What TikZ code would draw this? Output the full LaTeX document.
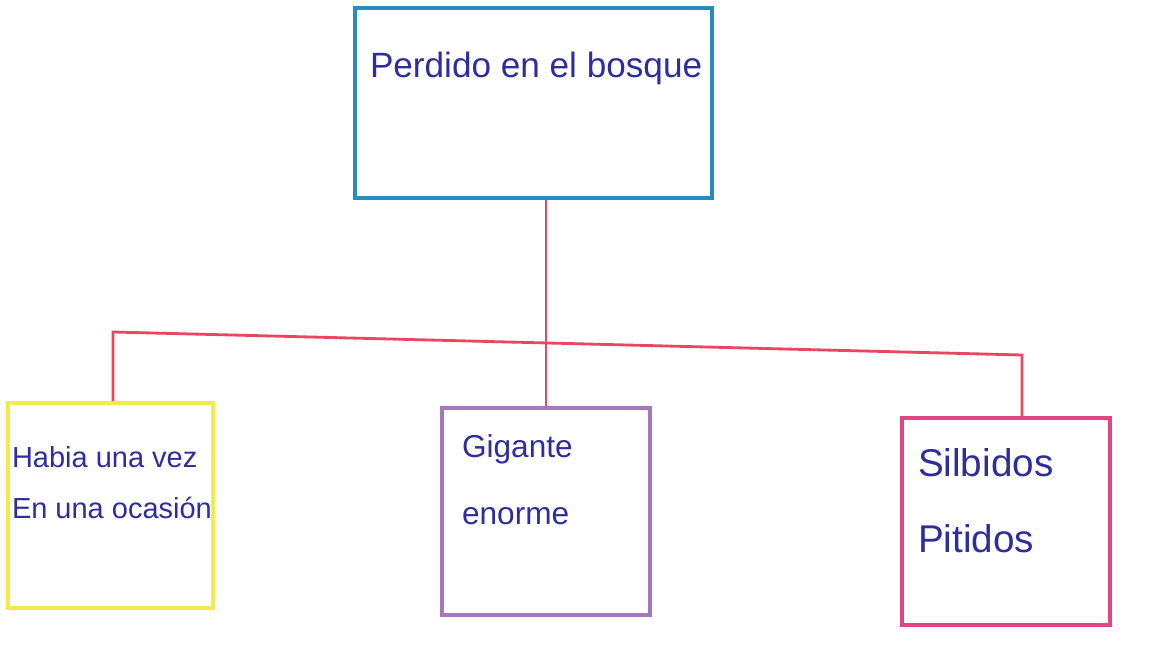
\documentclass[tikz,border=0pt]{standalone}
\usepackage{fontspec}
\setmainfont{Liberation Sans}
\usepackage{tikz}
\usetikzlibrary{shapes,arrows}
\definecolor{boxblue}{RGB}{40,140,195}
\definecolor{leafyellow}{RGB}{245,235,70}
\definecolor{leafpurple}{RGB}{165,120,190}
\definecolor{leafpink}{RGB}{225,70,130}
\definecolor{linered}{RGB}{235,70,95}
\definecolor{inkblue}{RGB}{45,45,160}
\tikzstyle{titlebox} = [rectangle, minimum width=7.14cm, minimum height=3.8cm, inner sep=0pt, draw=boxblue, line width=2pt, text=inkblue]
\tikzstyle{leafbox} = [rectangle, minimum width=4.16cm, minimum height=4.14cm, inner sep=0pt, line width=2pt, text=inkblue]
\tikzstyle{link} = [draw=linered, line width=1.6pt]

\begin{document}
\begin{tikzpicture}
        \useasboundingbox (0,0) rectangle (23,13.24);
        \node (root) [titlebox] at (10.67,11.18) {\parbox[c][3.8cm][t]{7.14cm}{\fontsize{20}{24}\selectfont\vspace*{0.89cm}\hspace*{0.3cm}Perdido en el bosque}};
        \node (habia) [leafbox, draw=leafyellow, minimum width=4.1cm, minimum height=4.1cm] at (2.21,3.13) {\parbox[c][4.1cm][t]{4.1cm}{\fontsize{16.5}{29}\selectfont\vspace*{0.87cm}\hspace*{0.08cm}Habia una vez\\\hspace*{0.08cm}En una ocasión}};
        \node (gigante) [leafbox, draw=leafpurple] at (10.92,3.01) {\parbox[c][4.14cm][t]{4.16cm}{\fontsize{18}{38}\selectfont\vspace*{0.54cm}\hspace*{0.4cm}Gigante\\\hspace*{0.4cm}enorme}};
        \node (silbidos) [leafbox, draw=leafpink] at (20.12,2.81) {\parbox[c][4.14cm][t]{4.16cm}{\fontsize{22}{43}\selectfont\vspace*{0.61cm}\hspace*{0.32cm}Silbidos\\\hspace*{0.32cm}Pitidos}};
        \coordinate (barL) at (2.26,6.6);
        \coordinate (barR) at (20.44,6.14);
        \draw [link] (habia.north -| barL) -- (barL) -- (barR) -- (silbidos.north -| barR);
        \draw [link] (root.south -| gigante.north) -- (gigante.north);
    \end{tikzpicture}
\end{document}
